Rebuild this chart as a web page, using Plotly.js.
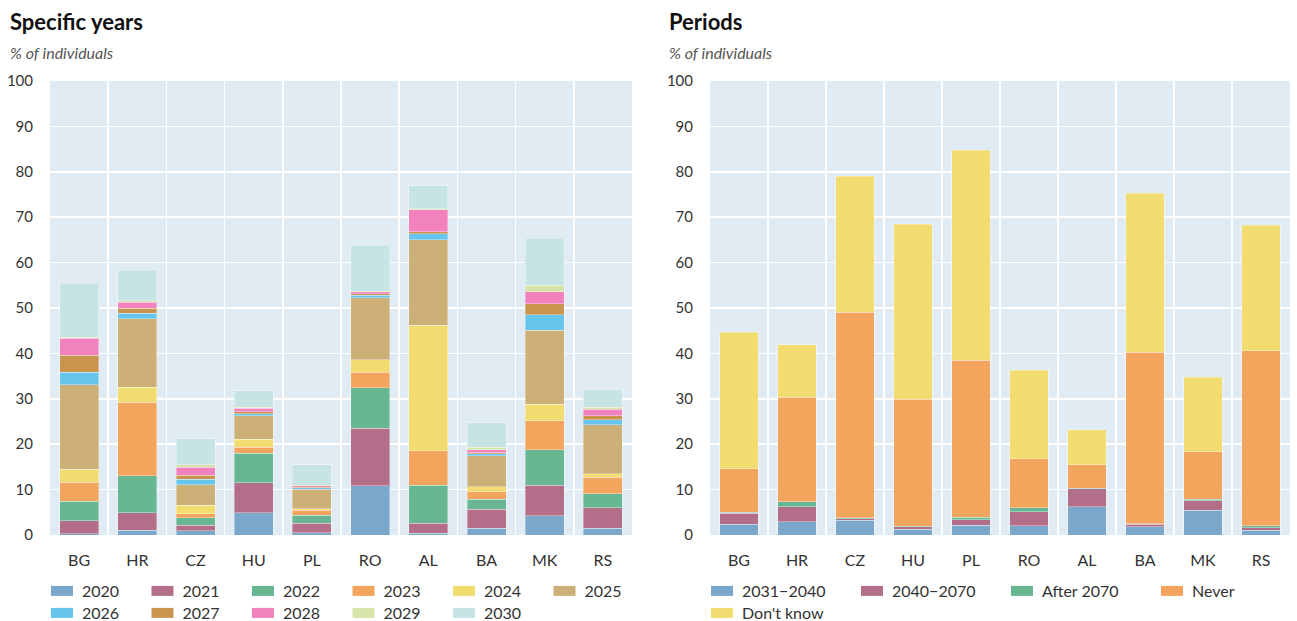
<!DOCTYPE html>
<html>
<head>
<meta charset="utf-8">
<script src="https://cdn.plot.ly/plotly-3.0.1.min.js"></script>
<style>html,body{margin:0;padding:0;background:#fff;}#chart{width:1297px;height:621px;}</style>
</head>
<body>
<div id="chart"></div>
<script>
// ---- Data ----
const countries = ["BG", "HR", "CZ", "HU", "PL", "RO", "AL", "BA", "MK", "RS"];

// Left panel: specific years (% of individuals)
const yearNames = ["2020", "2021", "2022", "2023", "2024", "2025", "2026", "2027", "2028", "2029", "2030"];
const y2020 = [0.3, 1.1, 0.9, 4.9, 0.45, 10.8, 0.4, 1.5, 4.2, 1.5];
const y2021 = [2.8, 3.8, 1.2, 6.6, 2.15, 12.7, 2.2, 4.2, 6.8, 4.5];
const y2022 = [4.3, 8.2, 1.65, 6.5, 1.7, 8.9, 8.4, 2.2, 7.8, 3.1];
const y2023 = [4.2, 16.1, 0.95, 1.3, 1.1, 3.4, 7.6, 1.6, 6.4, 3.6];
const y2024 = [2.9, 3.4, 1.85, 1.8, 0.35, 2.8, 27.6, 1.1, 3.6, 0.8];
const y2025 = [18.6, 15.0, 4.55, 5.2, 4.35, 13.7, 18.8, 6.9, 16.3, 10.8];
const y2026 = [2.7, 1.2, 1.2, 0.4, 0.35, 0.5, 1.4, 0.45, 3.4, 1.1];
const y2027 = [3.8, 1.2, 0.9, 0.5, 0.1, 0.3, 0.4, 0.15, 2.4, 0.9];
const y2028 = [3.7, 1.3, 1.7, 0.7, 0.3, 0.5, 4.8, 0.7, 2.7, 1.4];
const y2029 = [0.3, 0.3, 0.55, 0.2, 0.1, 0.1, 0.3, 0.5, 1.4, 0.4];
const y2030 = [11.8, 6.7, 5.75, 3.7, 4.55, 10.1, 5.0, 5.4, 10.4, 3.9];
const yearSeries = [y2020, y2021, y2022, y2023, y2024, y2025, y2026, y2027, y2028, y2029, y2030];

// Right panel: periods (% of individuals)
const periodNames = ["2031\u22122040", "2040\u22122070", "After 2070", "Never", "Don't know"];
const p2031_2040 = [2.35, 2.9, 3.2, 1.3, 2.2, 2.0, 6.2, 1.8, 5.4, 1.0];
const p2040_2070 = [2.45, 3.35, 0.4, 0.55, 1.2, 3.15, 4.0, 0.6, 2.2, 0.55];
const pAfter2070 = [0.2, 1.1, 0.15, 0.05, 0.5, 0.85, 0.1, 0.05, 0.3, 0.5];
const pNever = [9.6, 22.95, 45.35, 28.0, 34.6, 10.8, 5.15, 37.75, 10.4, 38.55];
const pDontKnow = [30.1, 11.6, 29.9, 38.5, 46.2, 19.5, 7.75, 35.1, 16.4, 27.6];
const periodSeries = [p2031_2040, p2040_2070, pAfter2070, pNever, pDontKnow];

const yTicks = [0, 10, 20, 30, 40, 50, 60, 70, 80, 90, 100];

// ---- Styles ----
const yearColors = ["#7BA7CB", "#B36E8A", "#67B793", "#F3A55E", "#F2DC6F", "#CDB077",
                    "#66C5ED", "#C8944E", "#F282BE", "#D6E4AA", "#C6E4E4"];
const periodColors = ["#7BA7CB", "#B36E8A", "#67B793", "#F3A55E", "#F2DC6F"];
const FONT = "Lato, 'Open Sans', sans-serif";
const W = 1297, H = 621, T = 81, B = 86;
const PH = H - T - B;
const px = v => v / W;
const py = v => (H - B - v) / PH;

const traces = [];
yearSeries.forEach((vals, i) => {
  traces.push({
    type: "bar", x: countries, y: vals, name: yearNames[i],
    xaxis: "x", yaxis: "y",
    legend: i < 6 ? "legend" : "legend2",
    marker: {color: yearColors[i], line: {color: "rgba(255,255,255,0.35)", width: 1}},
    hoverinfo: "x+y+name"
  });
});
periodSeries.forEach((vals, i) => {
  traces.push({
    type: "bar", x: countries, y: vals, name: periodNames[i],
    xaxis: "x2", yaxis: "y2",
    legend: i < 4 ? "legend3" : "legend4",
    marker: {color: periodColors[i], line: {color: "rgba(255,255,255,0.35)", width: 1}},
    hoverinfo: "x+y+name"
  });
});

const xCommon = {
  type: "category", tickson: "boundaries", showgrid: true, gridcolor: "#ffffff", gridwidth: 1.5,
  ticks: "", ticklabelstandoff: 14, showline: false, zeroline: false,
  tickfont: {family: FONT, size: 16, color: "#333"}, fixedrange: true
};
const yCommon = {
  range: [0, 100], tickvals: yTicks, showgrid: true, gridcolor: "#ffffff", gridwidth: 1.5,
  ticks: "outside", ticklen: 13, tickcolor: "rgba(0,0,0,0)", showline: false, zeroline: false,
  tickfont: {family: FONT, size: 15, color: "#333"}, fixedrange: true
};
const legCommon = {
  orientation: "h", xanchor: "left", yanchor: "middle", bgcolor: "rgba(0,0,0,0)",
  font: {family: FONT, size: 16, color: "#333"}, traceorder: "normal", entrywidthmode: "pixels"
};

const layout = {
  width: W, height: H,
  margin: {l: 0, r: 0, t: T, b: B, pad: 0, autoexpand: false},
  paper_bgcolor: "#ffffff", plot_bgcolor: "#E1EBF4",
  barmode: "stack", bargap: 0.33,
  font: {family: FONT, color: "#333"},
  xaxis: Object.assign({}, xCommon, {domain: [px(50), px(632)], anchor: "y"}),
  yaxis: Object.assign({}, yCommon, {anchor: "x"}),
  xaxis2: Object.assign({}, xCommon, {domain: [px(710), px(1290)], anchor: "y2"}),
  yaxis2: Object.assign({}, yCommon, {anchor: "x2"}),
  legend: Object.assign({}, legCommon, {x: px(42), y: py(591), entrywidth: 55.5}),
  legend2: Object.assign({}, legCommon, {x: px(42), y: py(613), entrywidth: 55.5}),
  legend3: Object.assign({}, legCommon, {x: px(702), y: py(591), entrywidth: 105}),
  legend4: Object.assign({}, legCommon, {x: px(702), y: py(613), entrywidth: 105}),
  showlegend: true,
  annotations: [
    {text: "<b>Specific years</b>", x: px(8), y: py(21), xref: "paper", yref: "paper",
     xanchor: "left", yanchor: "middle", showarrow: false, font: {family: FONT, size: 22, color: "#111"}},
    {text: "<i>% of individuals</i>", x: px(8), y: py(52), xref: "paper", yref: "paper",
     xanchor: "left", yanchor: "middle", showarrow: false, font: {family: FONT, size: 16, color: "#555"}},
    {text: "<b>Periods</b>", x: px(667), y: py(21), xref: "paper", yref: "paper",
     xanchor: "left", yanchor: "middle", showarrow: false, font: {family: FONT, size: 22, color: "#111"}},
    {text: "<i>% of individuals</i>", x: px(667), y: py(52), xref: "paper", yref: "paper",
     xanchor: "left", yanchor: "middle", showarrow: false, font: {family: FONT, size: 16, color: "#555"}}
  ]
};

Plotly.newPlot("chart", traces, layout, {displayModeBar: false, staticPlot: true}).then(() => {
  document.querySelectorAll(".legendpoints path").forEach(p => {
    p.setAttribute("d", "M11,5H-11V-5H11Z");
    p.style.strokeWidth = "0";
  });
});
</script>
</body>
</html>
